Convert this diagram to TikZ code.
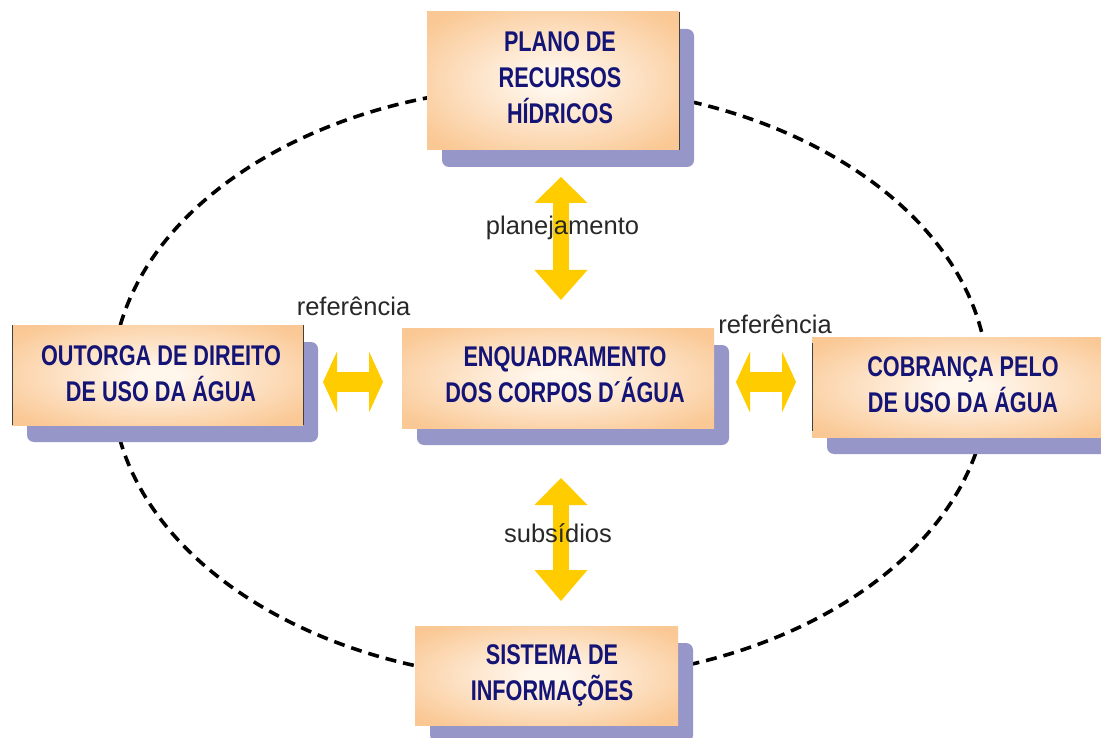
\documentclass[tikz,border=0pt]{standalone}
\usepackage{fontspec}
\setmainfont{Liberation Sans}
\newfontfamily\boxfont[FakeStretch=0.76]{Liberation Sans}
\usetikzlibrary{arrows.meta,calc}
\definecolor{glowin}{RGB}{255,246,236}
\definecolor{glowout}{RGB}{250,200,148}
\definecolor{shadowc}{RGB}{150,150,201}
\definecolor{navyt}{RGB}{20,20,118}
\definecolor{labelc}{RGB}{40,40,40}
\definecolor{yel}{RGB}{255,204,0}
\pgfdeclareradialshading{boxglow}{\pgfpoint{0bp}{0bp}}{color(0bp)=(glowin); color(4bp)=(glowin); color(32bp)=(glowout); color(100bp)=(glowout)}
\pgfdeclarelayer{ringl}
\pgfdeclarelayer{bg}
\pgfsetlayers{ringl,bg,main}
\begin{document}
\begin{tikzpicture}[x=1pt,y=-1pt,
  box/.style={shade, shading=boxglow, inner sep=0pt, outer sep=0pt, draw=none},
  shadowbox/.style={fill=shadowc, rounded corners=7pt},
  boxtext/.style={font=\boxfont\bfseries\fontsize{28.5}{36}\selectfont, text=navyt, align=center, inner sep=0pt},
  lbl/.style={font=\fontsize{25.5}{30}\selectfont, text=labelc, inner sep=0pt, anchor=base},
  ring/.style={draw=black, line width=3.6pt, dash pattern=on 11pt off 7pt},
  edgeline/.style={draw=black!75, line width=0.9pt},
  varrow/.style={yel, line width=16pt},
  harrow/.style={yel, line width=20pt}
]
\useasboundingbox (0,0) rectangle (1101,738);

% background and dashed cycle
\begin{pgfonlayer}{ringl}
\fill[white] (0,0) rectangle (1101,738);
\draw[ring] (550,383) ellipse [x radius=438, y radius=297];
\end{pgfonlayer}

% boxes
\node[box, minimum width=252pt, minimum height=138pt] (plano) at (553,81) {};
\node[box, minimum width=291pt, minimum height=100pt] (outorga) at (157.5,375) {};
\node[box, minimum width=312pt, minimum height=100pt] (enq) at (558,378) {};
\node[box, minimum width=302pt, minimum height=100pt] (cobr) at (963,387) {};
\node[box, minimum width=263pt, minimum height=99pt] (sist) at (546.5,675.5) {};

\begin{pgfonlayer}{bg}
\foreach \n in {plano,outorga,enq,cobr,sist}
  \fill[shadowbox] ($(\n.north west)+(15,17)$) rectangle ($(\n.south east)+(15,17)$);
\end{pgfonlayer}

% dark edges
\draw[edgeline] (outorga.north west) -- (outorga.south west);
\draw[edgeline] (outorga.north east) -- (outorga.south east);
\draw[edgeline] (plano.north east) -- (plano.south east);
\draw[edgeline] ($(cobr.north west)+(0,6)$) -- ($(cobr.south west)+(0,-6)$);

% box texts
\node[boxtext] (planot) at (560,78) {PLANO DE\\RECURSOS\\HÍDRICOS};
\node[boxtext] (outorgat) at (161,373.5) {OUTORGA DE DIREITO\\DE USO DA ÁGUA};
\node[boxtext] (enqt) at (565,375) {ENQUADRAMENTO\\DOS CORPOS D´ÁGUA};
\node[boxtext] (cobrt) at (963,385) {COBRANÇA PELO\\DE USO DA ÁGUA};
\node[boxtext] (sistt) at (552,675.5) {SISTEMA DE\\INFORMAÇÕES};

% arrows
\coordinate (pa) at (561,177);
\coordinate (pb) at (561,300);
\coordinate (sa) at (561,478);
\coordinate (sb) at (561,601);
\coordinate (la) at (323,382);
\coordinate (lb) at (383,382);
\coordinate (ra) at (736,382);
\coordinate (rb) at (796,382);
\draw[varrow, {Triangle[width=53pt,length=26pt,line width=0pt]}-{Triangle[width=53pt,length=30pt,line width=0pt]}] (pa) -- (pb);
\draw[varrow, {Triangle[width=53pt,length=27pt,line width=0pt]}-{Triangle[width=53pt,length=31pt,line width=0pt]}] (sa) -- (sb);
\draw[harrow, {Triangle[width=61pt,length=14pt,line width=0pt]}-{Triangle[width=61pt,length=14pt,line width=0pt]}] (la) -- (lb);
\draw[harrow, {Triangle[width=61pt,length=14pt,line width=0pt]}-{Triangle[width=61pt,length=14pt,line width=0pt]}] (ra) -- (rb);

% labels
\node[lbl] (plan) at (562.5,235) {planejamento};
\node[lbl] (subs) at (558,542) {subsídios};
\node[lbl] (refl) at (353.5,316) {referência};
\node[lbl] (refr) at (775,333) {referência};
\end{tikzpicture}
\end{document}
